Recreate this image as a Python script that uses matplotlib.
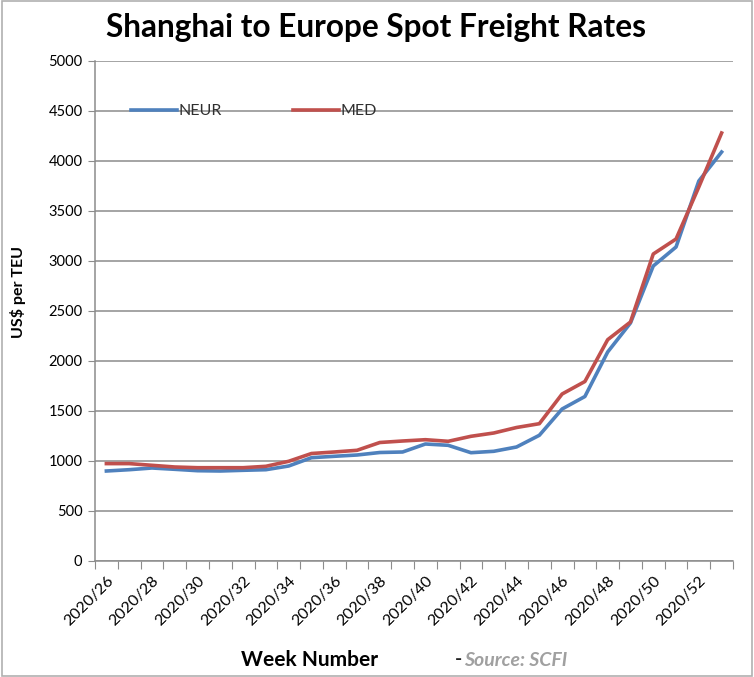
import matplotlib.pyplot as plt
import numpy as np
from matplotlib.patches import Rectangle

plt.rcParams['font.family'] = ['Lato', 'DejaVu Sans']

# Week numbers (2020) and spot rates
weeks = list(range(26, 54))
neur = [900, 913, 930, 917, 903, 900, 907, 913, 950, 1033, 1047, 1060, 1085, 1090,
        1170, 1157, 1083, 1097, 1140, 1257, 1520, 1645, 2090, 2380, 2950, 3140,
        3800, 4090]
med = [974, 974, 957, 940, 933, 933, 933, 947, 997, 1075, 1090, 1107, 1185, 1200,
       1213, 1197, 1247, 1280, 1335, 1373, 1670, 1795, 2213, 2390, 3070, 3220,
       3740, 4280]
tick_labels = [f"2020/{w}" for w in weeks[::2]]

blue = '#4F81BD'
red = '#C0504D'
grid = '#8c8c8c'

fig = plt.figure(figsize=(7.54, 6.77), dpi=100)
ax = fig.add_axes([95 / 754, 1 - 561 / 677, 638 / 754, 500 / 677])

x = np.arange(len(weeks))
ax.plot(x, neur, color=blue, lw=2.6, label='NEUR', solid_joinstyle='round')
ax.plot(x, med, color=red, lw=2.6, label='MED', solid_joinstyle='round')

ax.set_xlim(-0.5, len(weeks) - 0.5)
ax.set_ylim(0, 5000)
ax.set_yticks(np.arange(0, 5001, 500))
ax.yaxis.grid(True, color=grid, lw=1.1)
ax.set_axisbelow(True)
ax.tick_params(axis='y', direction='out', length=5, color=grid, labelsize=10.5, pad=4)

# category axis: tick marks between categories, labels every other week
ax.set_xticks(np.arange(-0.5, len(weeks)))
ax.set_xticklabels([])
ax.set_xticks(x[::2], minor=True)
ax.set_xticklabels(tick_labels, minor=True, rotation=45, ha='right',
                   rotation_mode='anchor', fontsize=11.5)
ax.tick_params(axis='x', which='major', direction='out', length=6, color=grid)
ax.tick_params(axis='x', which='minor', length=0, pad=9)

for s in ['top', 'right']:
    ax.spines[s].set_visible(False)
for s in ['left', 'bottom']:
    ax.spines[s].set_color(grid)
    ax.spines[s].set_linewidth(1.1)

leg = ax.legend(loc='center left', bbox_to_anchor=(28 / 638, 0.9), ncol=2,
                frameon=False, fontsize=11.5, handlelength=2.9,
                handletextpad=0.1, columnspacing=4.4, borderpad=0)
for t in leg.get_texts():
    t.set_color('#303030')

fig.text(376 / 754, 1 - 28 / 677, 'Shanghai to Europe Spot Freight Rates',
         ha='center', va='center', fontsize=22.8, fontweight='bold')
fig.text(18 / 754, 1 - 292 / 677, 'US$ per TEU', rotation=90, ha='center',
         va='center', fontsize=11.5, fontweight='bold')
fig.text(310 / 754, 1 - 660 / 677, 'Week Number', ha='center', va='center',
         fontsize=15, fontweight='bold')
fig.text(455 / 754, 1 - 660 / 677, '-', ha='left', va='center',
         fontsize=14, fontweight='bold', color='#202020')
fig.text(464 / 754, 1 - 660 / 677, 'Source: SCFI', ha='left', va='center',
         fontsize=14, style='italic', fontweight='bold', color='#a0a0a0')

fig.patches.append(Rectangle((0.002, 0.002), 0.996, 0.996, transform=fig.transFigure,
                             fill=False, edgecolor='#b0b0b0', lw=1.2))

fig.savefig('out.png', dpi=100)
